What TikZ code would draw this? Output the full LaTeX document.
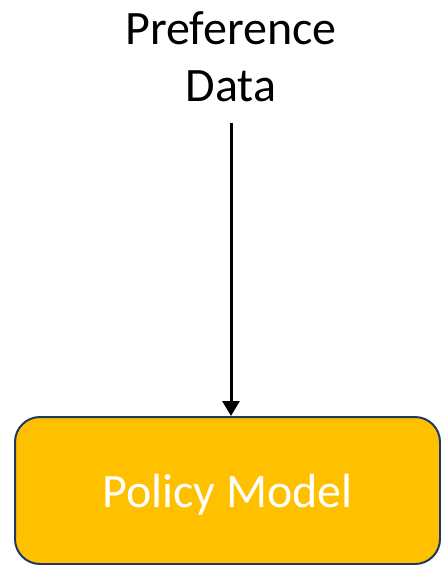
\documentclass[tikz,border=0pt]{standalone}
\usepackage{fontspec}
\setmainfont{Carlito}
\usetikzlibrary{positioning,arrows.meta}
\definecolor{modelfill}{HTML}{FFC000}
\definecolor{modeledge}{HTML}{1F3864}
\tikzset{
  modelbox/.style={draw=modeledge, line width=2pt, fill=modelfill, rounded corners=25pt,
    minimum width=425pt, minimum height=147pt, text depth=0pt, text=white,
    font=\fontsize{48}{58}\selectfont},
  datalabel/.style={align=center, inner sep=0pt, outer ysep=21pt, font=\fontsize{48}{57}\selectfont},
  flow/.style={-{Triangle[length=15pt,width=17pt]}, line width=3pt}
}
\begin{document}
\begin{tikzpicture}[x=1pt,y=-1pt]
\useasboundingbox (0,0) rectangle (441,565);
\node[modelbox] (policy) at (227.5,490.5) {Policy Model};
\node[datalabel, anchor=south] (data) at (231,123) {Preference\\Data};
\draw[flow] (data.south) -- (data.south |- policy.north);
\end{tikzpicture}
\end{document}
